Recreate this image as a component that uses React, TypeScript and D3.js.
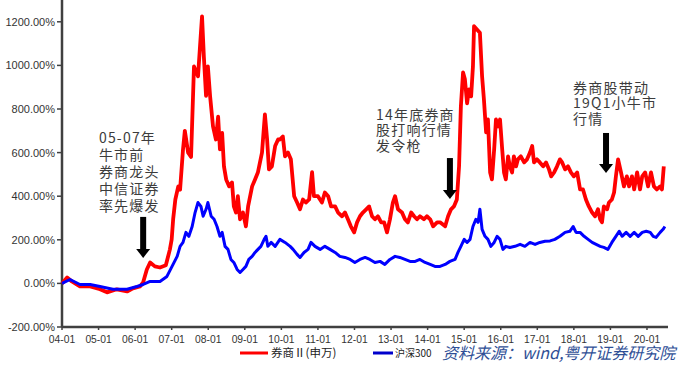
import React from "react";
import * as d3 from "d3";

const W = 688;
const H = 368;

// x-axis categories (years) and tick labels
const tickYears = [2004, 2005, 2006, 2007, 2008, 2009, 2010, 2011, 2012, 2013, 2014, 2015, 2016, 2017, 2018, 2019, 2020];
const tickLabels = ["04-01", "05-01", "06-01", "07-01", "08-01", "09-01", "10-01", "11-01", "12-01", "13-01", "14-01", "15-01", "16-01", "17-01", "18-01", "19-01", "20-01"];
const yTicks = [-200, 0, 200, 400, 600, 800, 1000, 1200];

// 券商Ⅱ(申万) cumulative return (%)
const brokerDates = [
  2004.0, 2004.14, 2004.27, 2004.49, 2004.77, 2005.04, 2005.23, 2005.5, 2005.78, 2005.94,
  2006.13, 2006.22, 2006.32, 2006.41, 2006.54, 2006.68, 2006.84, 2006.95, 2007.0, 2007.04,
  2007.1, 2007.18, 2007.23, 2007.31, 2007.36, 2007.45, 2007.53, 2007.61, 2007.72, 2007.77,
  2007.83, 2007.88, 2007.94, 2007.99, 2008.05, 2008.13, 2008.21, 2008.27, 2008.32, 2008.38,
  2008.43, 2008.49, 2008.57, 2008.65, 2008.7, 2008.76, 2008.81, 2008.87, 2008.95, 2009.03,
  2009.09, 2009.2, 2009.28, 2009.36, 2009.47, 2009.55, 2009.61, 2009.66, 2009.74, 2009.83,
  2009.91, 2009.96, 2010.04, 2010.1, 2010.18, 2010.26, 2010.35, 2010.43, 2010.51, 2010.59,
  2010.67, 2010.76, 2010.84, 2010.89, 2011.0, 2011.11, 2011.19, 2011.28, 2011.36, 2011.47,
  2011.55, 2011.66, 2011.74, 2011.82, 2011.9, 2011.99, 2012.07, 2012.15, 2012.23, 2012.32,
  2012.4, 2012.48, 2012.56, 2012.64, 2012.73, 2012.81, 2012.89, 2012.97, 2013.05, 2013.11,
  2013.19, 2013.3, 2013.38, 2013.46, 2013.55, 2013.63, 2013.71, 2013.79, 2013.9, 2013.98,
  2014.07, 2014.15, 2014.26, 2014.34, 2014.48, 2014.56, 2014.64, 2014.72, 2014.8, 2014.86,
  2014.91, 2014.97, 2015.02, 2015.08, 2015.13, 2015.19, 2015.24, 2015.27, 2015.35, 2015.43,
  2015.49, 2015.54, 2015.6, 2015.65, 2015.71, 2015.76, 2015.82, 2015.87, 2015.93, 2015.98,
  2016.04, 2016.09, 2016.14, 2016.2, 2016.25, 2016.31, 2016.36, 2016.42, 2016.47, 2016.55,
  2016.64, 2016.72, 2016.8, 2016.86, 2016.91, 2016.99, 2017.07, 2017.16, 2017.24, 2017.32,
  2017.38, 2017.46, 2017.54, 2017.62, 2017.68, 2017.76, 2017.84, 2017.92, 2018.0, 2018.09,
  2018.17, 2018.25, 2018.33, 2018.41, 2018.5, 2018.58, 2018.66, 2018.72, 2018.77, 2018.82,
  2018.91, 2018.96, 2019.04, 2019.1, 2019.15, 2019.21, 2019.29, 2019.37, 2019.45, 2019.51,
  2019.59, 2019.65, 2019.73, 2019.81, 2019.87, 2019.95, 2020.03, 2020.11, 2020.19, 2020.27,
  2020.36, 2020.41, 2020.46,
];
const brokerValues = [
  0, 27, 9, -14, -14, -27, -41, -27, -37, -23,
  -14, 5, 64, 96, 78, 73, 83, 155, 202, 294,
  385, 445, 430, 615, 700, 600, 580, 995, 950, 1075,
  1225, 1040, 860, 995, 860, 720, 660, 765, 615, 690,
  537, 477, 445, 463, 353, 325, 400, 294, 325, 262,
  353, 445, 477, 510, 600, 775, 660, 523, 537, 630,
  660, 660, 674, 583, 600, 569, 400, 371, 340, 385,
  371, 385, 510, 400, 400, 371, 417, 400, 353, 353,
  325, 308, 325, 294, 262, 234, 280, 308, 325, 340,
  353, 308, 294, 308, 280, 280, 234, 294, 371, 400,
  340, 325, 294, 280, 325, 308, 294, 308, 294, 308,
  294, 262, 280, 280, 262, 308, 340, 353, 385, 537,
  812, 968, 936, 826, 890, 858, 995, 1180, 1165, 1150,
  950, 844, 693, 752, 509, 477, 615, 752, 720, 752,
  615, 509, 477, 583, 537, 509, 583, 537, 569, 583,
  555, 569, 600, 630, 555, 569, 555, 537, 555, 523,
  491, 509, 537, 569, 555, 523, 537, 509, 491, 509,
  431, 431, 385, 353, 325, 308, 340, 294, 280, 353,
  340, 371, 385, 417, 491, 569, 509, 445, 491, 445,
  491, 431, 509, 431, 491, 509, 445, 509, 445, 431,
  445, 431, 537,
];

// 沪深300 cumulative return (%)
const hs300Dates = [
  2004.0, 2004.22, 2004.49, 2004.77, 2005.04, 2005.39, 2005.78, 2006.05, 2006.22, 2006.41,
  2006.6, 2006.68, 2006.87, 2007.01, 2007.15, 2007.23, 2007.31, 2007.39, 2007.47, 2007.56,
  2007.64, 2007.72, 2007.8, 2007.86, 2007.94, 2007.99, 2008.08, 2008.16, 2008.24, 2008.32,
  2008.38, 2008.46, 2008.54, 2008.62, 2008.7, 2008.79, 2008.87, 2008.95, 2009.03, 2009.11,
  2009.2, 2009.28, 2009.36, 2009.44, 2009.53, 2009.58, 2009.63, 2009.72, 2009.83, 2009.96,
  2010.1, 2010.24, 2010.32, 2010.43, 2010.51, 2010.62, 2010.73, 2010.81, 2010.92, 2011.06,
  2011.19, 2011.33, 2011.47, 2011.6, 2011.74, 2011.88, 2012.01, 2012.15, 2012.29, 2012.42,
  2012.56, 2012.7, 2012.83, 2012.97, 2013.11, 2013.24, 2013.38, 2013.52, 2013.66, 2013.79,
  2013.93, 2014.07, 2014.2, 2014.34, 2014.48, 2014.61, 2014.75, 2014.83, 2014.91, 2015.0,
  2015.08, 2015.16, 2015.24, 2015.32, 2015.38, 2015.43, 2015.49, 2015.57, 2015.65, 2015.73,
  2015.82, 2015.9, 2015.98, 2016.06, 2016.14, 2016.25, 2016.39, 2016.53, 2016.66, 2016.8,
  2016.94, 2017.07, 2017.21, 2017.35, 2017.48, 2017.62, 2017.76, 2017.89, 2017.98, 2018.06,
  2018.17, 2018.28, 2018.39, 2018.5, 2018.61, 2018.72, 2018.82, 2018.93, 2019.04, 2019.15,
  2019.24, 2019.32, 2019.43, 2019.54, 2019.65, 2019.76, 2019.87, 2019.98, 2020.09, 2020.17,
  2020.25, 2020.36, 2020.44, 2020.49,
];
const hs300Values = [
  0, 18, -5, -5, -14, -27, -27, -14, -5, 9,
  9, 9, 32, 78, 124, 170, 188, 234, 216, 261,
  325, 371, 353, 308, 340, 371, 308, 294, 261, 216,
  234, 170, 156, 110, 96, 64, 50, 64, 78, 110,
  124, 142, 156, 170, 202, 216, 170, 188, 170, 202,
  188, 170, 156, 133, 119, 142, 156, 188, 170, 156,
  170, 156, 142, 124, 119, 110, 96, 110, 119, 110,
  96, 101, 87, 110, 124, 119, 110, 101, 101, 110,
  96, 87, 78, 78, 87, 101, 110, 142, 170, 202,
  188, 202, 261, 294, 280, 340, 248, 216, 202, 170,
  188, 216, 202, 156, 170, 165, 170, 179, 170, 188,
  179, 188, 193, 195, 202, 216, 234, 239, 261, 234,
  234, 216, 202, 188, 179, 170, 165, 156, 188, 216,
  239, 216, 234, 216, 234, 216, 234, 239, 234, 216,
  211, 234, 248, 261,
];

// annotation texts with anchor (year, value) and arrow (year, top value, tip value)
const annoLines1 = ["05-07年", "牛市前", "券商龙头", "中信证券", "率先爆发"];
const annoLines2 = ["14年底券商", "股打响行情", "发令枪"];
const annoLines3 = ["券商股带动", "19Q1小牛市", "行情"];
const annotations = [
  { lines: annoLines1, year: 2005.01, value: 644, gap: 17, arrowYear: 2006.22, arrowTop: 305, arrowTip: 117 },
  { lines: annoLines2, year: 2012.59, value: 750, gap: 15.5, arrowYear: 2014.61, arrowTop: 575, arrowTip: 387 },
  { lines: annoLines3, year: 2017.98, value: 873, gap: 15.3, arrowYear: 2018.88, arrowTop: 690, arrowTip: 506 },
];

export default function App() {
  const x = d3.scaleLinear().domain([2004, 2020.575]).range([62, 668]);
  const y = d3.scaleLinear().domain([-200, 1300]).range([327, 0]);

  const line = d3
    .line<[number, number]>()
    .x((d) => x(d[0]))
    .y((d) => y(d[1]))
    .curve(d3.curveLinear);

  const brokerPath = line(brokerDates.map((d, i) => [d, brokerValues[i]]));
  const hsPath = line(hs300Dates.map((d, i) => [d, hs300Values[i]]));

  const axisColor = "#404040";
  const labelFont = "'Liberation Sans', Arial, sans-serif";
  const cjkFont = "'Noto Sans CJK SC', 'Liberation Sans', sans-serif";

  return (
    <svg width={W} height={H} style={{ position: "absolute", left: 0, top: 0, background: "#fff" }}>
      <rect x={0} y={0} width={W} height={H} fill="#fff" />
      {/* y axis */}
      <line x1={x(2004)} x2={x(2004)} y1={0} y2={y(-200)} stroke={axisColor} strokeWidth={2.5} />
      {yTicks.map((t) => (
        <g key={t}>
          <line x1={x(2004) - 5} x2={x(2004)} y1={y(t)} y2={y(t)} stroke={axisColor} strokeWidth={1.5} />
          <text x={55} y={y(t) + 4} textAnchor="end" fontSize={11} fill="#333" fontFamily={labelFont}>
            {t.toFixed(2) + "%"}
          </text>
        </g>
      ))}
      {/* x axis */}
      <line x1={x(2004)} x2={x(2020.575)} y1={y(-200)} y2={y(-200)} stroke={axisColor} strokeWidth={2.5} />
      {tickYears.map((t, i) => (
        <g key={t}>
          <line x1={x(t)} x2={x(t)} y1={y(-200)} y2={y(-200) + 3} stroke={axisColor} strokeWidth={1.5} />
          <text x={x(t)} y={y(-200) + 16} textAnchor="middle" fontSize={10.3} fill="#333" fontFamily={labelFont}>
            {tickLabels[i]}
          </text>
        </g>
      ))}
      {/* series */}
      <path d={brokerPath || ""} fill="none" stroke="#ff0000" strokeWidth={3.8} strokeLinejoin="round" />
      <path d={hsPath || ""} fill="none" stroke="#0000ff" strokeWidth={3} strokeLinejoin="round" />
      {/* annotations */}
      {annotations.map((a, k) => {
        const ax = x(a.arrowYear);
        const top = y(a.arrowTop);
        const tip = y(a.arrowTip);
        return (
          <g key={k}>
            {a.lines.map((l, j) => (
              <text key={j} x={x(a.year)} y={y(a.value) + j * a.gap} fontSize={14} letterSpacing={1.2} fill="#3c3c3c" fontFamily={cjkFont}>
                {l}
              </text>
            ))}
            <rect x={ax - 3} y={top} width={6} height={tip - top - 8} fill="#000" />
            <path d={`M${ax - 7},${tip - 9} L${ax + 7},${tip - 9} L${ax},${tip} Z`} fill="#000" />
          </g>
        );
      })}
      {/* legend */}
      <line x1={240} x2={268} y1={353} y2={353} stroke="#ff0000" strokeWidth={3} />
      <text x={271} y={357} fontSize={11.5} fill="#222" fontFamily={cjkFont}>券商Ⅱ(申万)</text>
      <line x1={373} x2={393} y1={353} y2={353} stroke="#0000cc" strokeWidth={3} />
      <text x={395} y={357} fontSize={10} fill="#222" fontFamily={cjkFont}>沪深300</text>
      <text x={442} y={359} fontSize={16} fontStyle="italic" fill="#2f4f96" fontFamily={cjkFont}>资料来源：wind,粤开证券研究院</text>
    </svg>
  );
}
